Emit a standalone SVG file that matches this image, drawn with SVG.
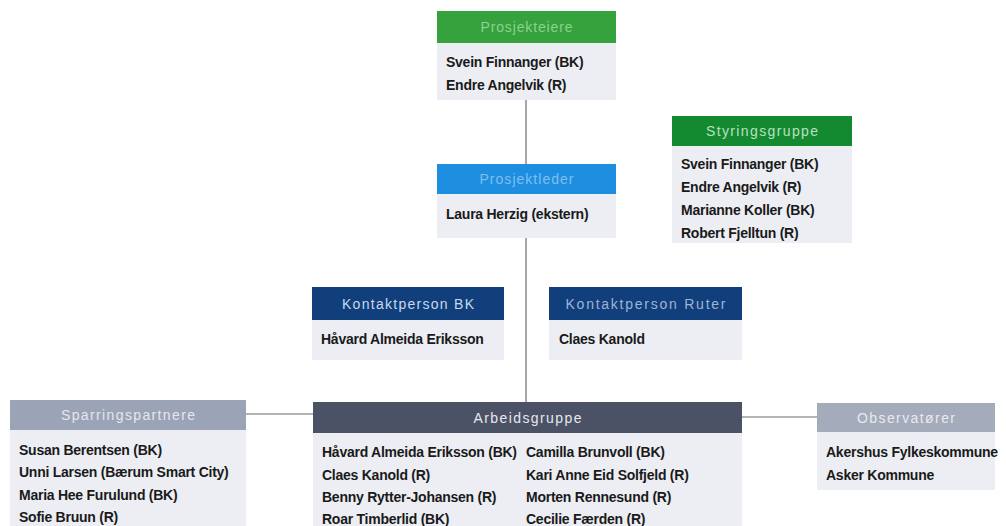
<svg xmlns="http://www.w3.org/2000/svg" width="1006" height="526" viewBox="0 0 1006 526">
<style>
.body{fill:#eceef3}
.hd{font-family:"Liberation Sans",Arial,sans-serif;font-size:14px;text-anchor:middle}
.t{font-family:"Liberation Sans",Arial,sans-serif;font-size:14px;font-weight:bold;fill:#1a1a1a;letter-spacing:-0.25px}
.ln{stroke:#6b6b6b;stroke-width:1.2;fill:none}
</style>
<rect width="1006" height="526" fill="#ffffff"/>
<g id="connectors">
<line class="ln" x1="526" y1="100" x2="526" y2="164"/>
<line class="ln" x1="526" y1="238" x2="526" y2="402"/>
<line class="ln" x1="246" y1="414" x2="313" y2="414"/>
<line class="ln" x1="742" y1="417" x2="817" y2="417"/>
</g>
<g id="prosjekteiere">
<rect class="body" x="437" y="43" width="179" height="57"/>
<rect x="437" y="11" width="179" height="32" fill="#35a23d"/>
<text class="hd" x="526.5" y="32" fill="#8fd08f" textLength="92" lengthAdjust="spacing">Prosjekteiere</text>
<text class="t" x="446" y="67">Svein Finnanger (BK)</text>
<text class="t" x="446" y="90">Endre Angelvik (R)</text>
</g>
<g id="styringsgruppe">
<rect class="body" x="672" y="146" width="180" height="97"/>
<rect x="672" y="116" width="180" height="30" fill="#148a30"/>
<text class="hd" x="762" y="136" fill="#b8e0c0" textLength="112" lengthAdjust="spacing">Styringsgruppe</text>
<text class="t" x="681" y="169">Svein Finnanger (BK)</text>
<text class="t" x="681" y="192">Endre Angelvik (R)</text>
<text class="t" x="681" y="215">Marianne Koller (BK)</text>
<text class="t" x="681" y="238">Robert Fjelltun (R)</text>
</g>
<g id="prosjektleder">
<rect class="body" x="437" y="194" width="179" height="44"/>
<rect x="437" y="164" width="179" height="30" fill="#1e8fe0"/>
<text class="hd" x="526.5" y="184" fill="#7fbef0" textLength="94" lengthAdjust="spacing">Prosjektleder</text>
<text class="t" x="446" y="219">Laura Herzig (ekstern)</text>
</g>
<g id="kontaktperson-bk">
<rect class="body" x="312" y="320" width="192" height="40"/>
<rect x="312" y="287" width="192" height="33" fill="#103f7c"/>
<text class="hd" x="408" y="309" fill="#c8d8ee" textLength="132" lengthAdjust="spacing">Kontaktperson BK</text>
<text class="t" x="321" y="344">Håvard Almeida Eriksson</text>
</g>
<g id="kontaktperson-ruter">
<rect class="body" x="549" y="320" width="193" height="40"/>
<rect x="549" y="287" width="193" height="33" fill="#103f7c"/>
<text class="hd" x="645.5" y="309" fill="#9fb4d4" textLength="160" lengthAdjust="spacing">Kontaktperson Ruter</text>
<text class="t" x="559" y="344">Claes Kanold</text>
</g>
<g id="arbeidsgruppe">
<rect class="body" x="313" y="433" width="429" height="93"/>
<rect x="313" y="402" width="429" height="31" fill="#4b5266"/>
<text class="hd" x="527.5" y="423" fill="#e6e8ee" textLength="108" lengthAdjust="spacing">Arbeidsgruppe</text>
<text class="t" x="322" y="457">Håvard Almeida Eriksson (BK)</text>
<text class="t" x="322" y="480">Claes Kanold (R)</text>
<text class="t" x="322" y="502">Benny Rytter-Johansen (R)</text>
<text class="t" x="322" y="524">Roar Timberlid (BK)</text>
<text class="t" x="526" y="457">Camilla Brunvoll (BK)</text>
<text class="t" x="526" y="480">Kari Anne Eid Solfjeld (R)</text>
<text class="t" x="526" y="502">Morten Rennesund (R)</text>
<text class="t" x="526" y="524">Cecilie Færden (R)</text>
</g>
<g id="sparringspartnere">
<rect class="body" x="10" y="430" width="236" height="96"/>
<rect x="10" y="400" width="236" height="30" fill="#9ba3b6"/>
<text class="hd" x="128" y="420" fill="#e4e7ee" textLength="134" lengthAdjust="spacing">Sparringspartnere</text>
<text class="t" x="19" y="455">Susan Berentsen (BK)</text>
<text class="t" x="19" y="477">Unni Larsen (Bærum Smart City)</text>
<text class="t" x="19" y="500">Maria Hee Furulund (BK)</text>
<text class="t" x="19" y="522">Sofie Bruun (R)</text>
</g>
<g id="observatorer">
<rect class="body" x="817" y="432" width="178" height="58"/>
<rect x="817" y="403" width="178" height="29" fill="#a4abba"/>
<text class="hd" x="906" y="423" fill="#e8eaf0" textLength="98" lengthAdjust="spacing">Observatører</text>
<text class="t" x="826" y="457">Akershus Fylkeskommune</text>
<text class="t" x="826" y="480">Asker Kommune</text>
</g>
</svg>
